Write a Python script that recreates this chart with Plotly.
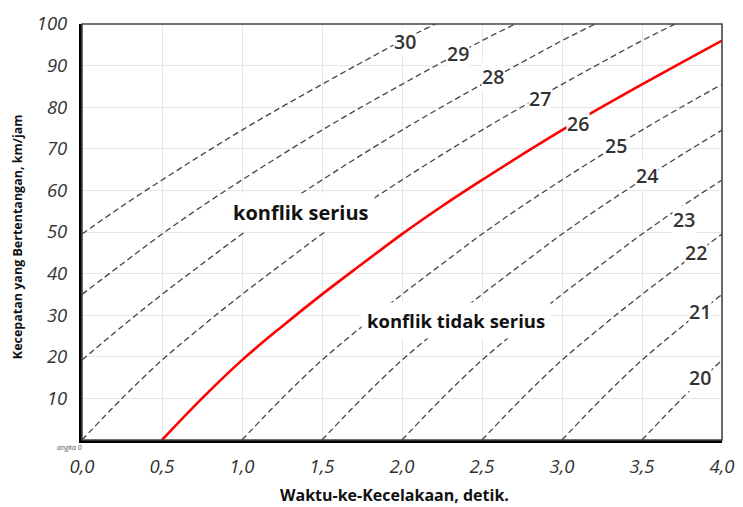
import plotly.graph_objects as go

# ---- data ----
x_ticks = [0.0, 0.5, 1.0, 1.5, 2.0, 2.5, 3.0, 3.5, 4.0]
x_tick_labels = ["0,0", "0,5", "1,0", "1,5", "2,0", "2,5", "3,0", "3,5", "4,0"]
y_ticks = [10, 20, 30, 40, 50, 60, 70, 80, 90, 100]
y_tick_labels = ["10", "20", "30", "40", "50", "60", "70", "80", "90", "100"]

# severity curves (dashed): time-to-accident (s) vs conflicting speed (km/h)
c30_t = [0.0, 0.25, 0.5, 0.75, 1.0, 1.25, 1.5, 1.75, 2.0, 2.25, 2.5]
c30_v = [49.5, 56.2, 62.5, 68.6, 74.5, 80.1, 85.5, 90.8, 96, 100.8, 105.5]
c29_t = [0.0, 0.25, 0.5, 0.75, 1.0, 1.25, 1.5, 1.75, 2.0, 2.25, 2.5, 2.75, 3.0]
c29_v = [35, 42.3, 49.5, 56.2, 62.5, 68.6, 74.5, 80.1, 85.5, 90.8, 96, 100.8, 105.5]
c28_t = [0.0, 0.25, 0.5, 0.75, 1.0, 1.25, 1.5, 1.75, 2.0, 2.25, 2.5, 2.75, 3.0, 3.25, 3.5]
c28_v = [19.2, 27.3, 35, 42.3, 49.5, 56.2, 62.5, 68.6, 74.5, 80.1, 85.5, 90.8, 96, 100.8, 105.5]
c27_t = [0.0, 0.25, 0.5, 0.75, 1.0, 1.25, 1.5, 1.75, 2.0, 2.25, 2.5, 2.75, 3.0, 3.25, 3.5, 3.75, 4.0]
c27_v = [0, 10, 19.2, 27.3, 35, 42.3, 49.5, 56.2, 62.5, 68.6, 74.5, 80.1, 85.5, 90.8, 96, 100.8, 105.5]
c25_t = [1.0, 1.25, 1.5, 1.75, 2.0, 2.25, 2.5, 2.75, 3.0, 3.25, 3.5, 3.75, 4.0]
c25_v = [0, 10, 19.2, 27.3, 35, 42.3, 49.5, 56.2, 62.5, 68.6, 74.5, 80.1, 85.5]
c24_t = [1.5, 1.75, 2.0, 2.25, 2.5, 2.75, 3.0, 3.25, 3.5, 3.75, 4.0]
c24_v = [0, 10, 19.2, 27.3, 35, 42.3, 49.5, 56.2, 62.5, 68.6, 74.5]
c23_t = [2.0, 2.25, 2.5, 2.75, 3.0, 3.25, 3.5, 3.75, 4.0]
c23_v = [0, 10, 19.2, 27.3, 35, 42.3, 49.5, 56.2, 62.5]
c22_t = [2.5, 2.75, 3.0, 3.25, 3.5, 3.75, 4.0]
c22_v = [0, 10, 19.2, 27.3, 35, 42.3, 49.5]
c21_t = [3.0, 3.25, 3.5, 3.75, 4.0]
c21_v = [0, 10, 19.2, 27.3, 35]
c20_t = [3.5, 3.75, 4.0]
c20_v = [0, 10, 19.2]

# boundary curve (red, level 26)
c26_t = [0.5, 0.75, 1.0, 1.25, 1.5, 1.75, 2.0, 2.25, 2.5, 2.75, 3.0, 3.25, 3.5, 3.75, 4.0]
c26_v = [0, 10, 19.2, 27.3, 35, 42.3, 49.5, 56.2, 62.5, 68.6, 74.5, 80.1, 85.5, 90.8, 96]

# curve labels: level, position (t, v)
label_levels = ["30", "29", "28", "27", "26", "25", "24", "23", "22", "21", "20"]
label_t = [2.02, 2.35, 2.57, 2.86, 3.10, 3.34, 3.53, 3.76, 3.84, 3.86, 3.86]
label_v = [95.7, 93.0, 87.5, 82.0, 76.0, 70.7, 63.5, 53.0, 45.0, 31.0, 15.0]

region_texts = ["konflik serius", "konflik tidak serius"]
region_t = [1.37, 2.34]
region_v = [54.6, 28.8]

dashed = [(c30_t, c30_v), (c29_t, c29_v), (c28_t, c28_v), (c27_t, c27_v),
          (c25_t, c25_v), (c24_t, c24_v), (c23_t, c23_v), (c22_t, c22_v),
          (c21_t, c21_v), (c20_t, c20_v)]

fig = go.Figure()
for t, v in dashed:
    fig.add_trace(go.Scatter(x=t, y=v, mode="lines", line_shape="spline",
                             line=dict(color="#444444", width=1.3, dash="6px,3.5px"),
                             hoverinfo="skip", showlegend=False))
fig.add_trace(go.Scatter(x=c26_t, y=c26_v, mode="lines", line_shape="spline",
                         line=dict(color="#ff0000", width=2.6),
                         hoverinfo="skip", showlegend=False))

for lab, t, v in zip(label_levels, label_t, label_v):
    fig.add_annotation(x=t, y=v, text=lab, showarrow=False, bgcolor="white",
                       font=dict(family="Open Sans", size=19.5, color="#333333", weight=600),
                       borderpad=0)

for txt, t, v in zip(region_texts, region_t, region_v):
    fig.add_annotation(x=t, y=v, text=txt, showarrow=False, bgcolor="white",
                       font=dict(family="Open Sans", size=20 if txt == "konflik serius" else 18.5,
                                 color="#111111", weight="bold"),
                       borderpad=5)

# axis titles (figure is offset 8px by the page margin)
fig.add_annotation(xref="paper", yref="paper", x=-0.1016, y=0.49,
                   xanchor="center", yanchor="middle",
                   text="Kecepatan yang Bertentangan, km/jam", textangle=-90,
                   showarrow=False,
                   font=dict(family="Open Sans", size=12.5, color="#111111", weight="bold"))
fig.add_annotation(xref="paper", yref="paper", x=0.4875, y=-0.132,
                   xanchor="center", yanchor="middle",
                   text="Waktu-ke-Kecelakaan, detik.", showarrow=False,
                   font=dict(family="Open Sans", size=16, color="#111111", weight="bold"))
fig.add_annotation(xref="paper", yref="paper", x=-0.019, y=-0.017,
                   xanchor="center", yanchor="middle",
                   text="angka 0", showarrow=False,
                   font=dict(family="Open Sans", size=7, color="#555555", style="italic"))

# frame (top/right thinner)
fig.add_shape(type="rect", xref="paper", yref="paper", x0=0, y0=0, x1=1, y1=1,
              line=dict(color="#444444", width=1.6), layer="above")

fig.update_xaxes(range=[0, 4], tickvals=x_ticks, ticktext=x_tick_labels,
                 showgrid=True, gridcolor="#e6e6e6", gridwidth=1, zeroline=False,
                 showline=True, linecolor="#000000", linewidth=3,
                 ticks="", ticklabelstandoff=8,
                 tickfont=dict(family="Open Sans", size=18.5, color="#333333", style="italic"))
fig.update_yaxes(range=[0, 100], tickvals=y_ticks, ticktext=y_tick_labels,
                 showgrid=True, gridcolor="#e6e6e6", gridwidth=1, zeroline=False,
                 showline=True, linecolor="#000000", linewidth=3,
                 ticks="", ticklabelstandoff=8,
                 tickfont=dict(family="Open Sans", size=18.5, color="#333333", style="italic"))

fig.update_layout(width=735, height=499, margin=dict(l=74, r=21, t=16, b=67, autoexpand=False),
                  paper_bgcolor="white", plot_bgcolor="white", showlegend=False)

fig.write_html("out.html")
